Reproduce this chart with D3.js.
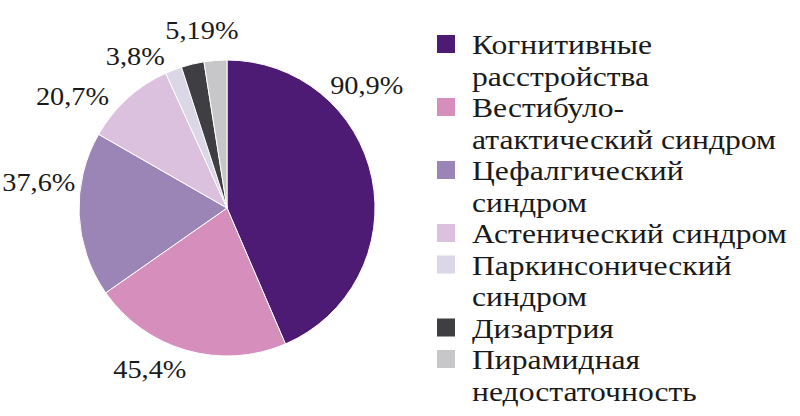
<!DOCTYPE html>
<html><head><meta charset="utf-8">
<script src="https://cdn.jsdelivr.net/npm/d3@7"></script>
<style>html,body{margin:0;padding:0;background:#fff;}svg{display:block;}</style>
</head><body>
<svg id="chart" width="800" height="416"></svg>
<script>
// Data
const categories = ["Когнитивные расстройства","Вестибуло-атактический синдром","Цефалгический синдром","Астенический синдром","Паркинсонический синдром","Дизартрия","Пирамидная недостаточность"];
const legendLines = [["Когнитивные","расстройства"],["Вестибуло-","атактический синдром"],["Цефалгический","синдром"],["Астенический синдром"],["Паркинсонический","синдром"],["Дизартрия"],["Пирамидная","недостаточность"]];
const values = [90.9, 45.4, 37.6, 20.7, 3.8, 5.19, 5.19];
const valueLabels = ["90,9%","45,4%","37,6%","20,7%","3,8%","5,19%",""];
const colors = ["#4d1b73","#d68ebd","#9a85b6","#dcc1df","#dcd7e6","#3f3e42","#c7c7c9"];

// Layout (not data)
const cx = 227, cy = 208, R = 148;
const labelPlace = [[48.7,186],[205.7,178],[278,190],[306,191],[329,178],[352,180],[0,0]];
const font = "'Liberation Serif'";

const svg = d3.select("#chart");
const color = d3.scaleOrdinal().domain(categories).range(colors);
const pie = d3.pie().sort(null).value(d => d.v);
const arc = d3.arc().innerRadius(0).outerRadius(R);
const data = categories.map((c,i)=>({c, v: values[i], label: valueLabels[i], i}));

const g = svg.append("g").attr("transform",`translate(${cx},${cy})`);
g.selectAll("path").data(pie(data)).join("path")
  .attr("d", arc).attr("fill", d => color(d.data.c))
  .attr("stroke","#fff").attr("stroke-width",1);

g.selectAll("text.lbl").data(pie(data).filter(d=>d.data.label)).join("text")
  .attr("class","lbl")
  .attr("transform", d => {
    const p = labelPlace[d.data.i], a = p[0]*Math.PI/180;
    return `translate(${Math.sin(a)*p[1]},${-Math.cos(a)*p[1]}) scale(1.09,1)`;
  })
  .attr("dy","0.35em").attr("text-anchor","middle")
  .style("font-family", font).style("font-size","26px").attr("fill","#1a1a1a")
  .text(d => d.data.label);

// Legend
const lx = 437, textX = 472, y0 = 54, lh = 31.5;
let line = 0;
const leg = svg.append("g");
legendLines.forEach((lines, i) => {
  const by = y0 + line*lh;
  leg.append("rect").attr("x", lx).attr("y", by-19).attr("width",18).attr("height",18).attr("fill", colors[i]);
  lines.forEach((t,j) => {
    leg.append("text").attr("transform", `translate(${textX},${by + j*lh}) scale(1.13,1)`)
      .style("font-family", font).style("font-size","28px").attr("fill","#1a1a1a").text(t);
  });
  line += lines.length;
});
</script>
</body></html>
